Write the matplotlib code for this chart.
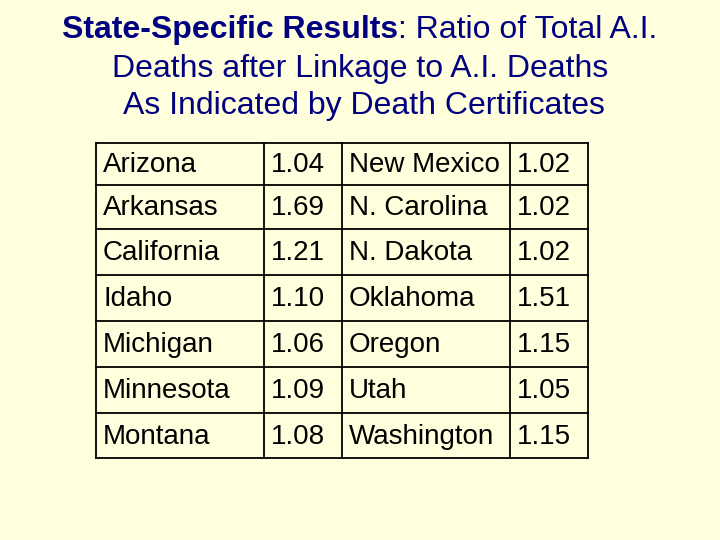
import matplotlib
matplotlib.use("Agg")
import matplotlib.pyplot as plt

states_left = ["Arizona", "Arkansas", "California", "Idaho", "Michigan", "Minnesota", "Montana"]
values_left = ["1.04", "1.69", "1.21", "1.10", "1.06", "1.09", "1.08"]
states_right = ["New Mexico", "N. Carolina", "N. Dakota", "Oklahoma", "Oregon", "Utah", "Washington"]
values_right = ["1.02", "1.02", "1.02", "1.51", "1.15", "1.05", "1.15"]

bg = "#FFFFDD"
fig = plt.figure(figsize=(7.2, 5.4), dpi=100, facecolor=bg)
ax = fig.add_axes([0, 0, 1, 1])
ax.set_xlim(0, 720); ax.set_ylim(540, 0); ax.axis("off")
ax.set_facecolor(bg)

font = ["Liberation Sans", "DejaVu Sans"]
navy = "#000080"
tfs = 23
r = fig.canvas.get_renderer()
ta = ax.text(0, 30, "State-Specific Results", ha="left", va="center", fontsize=tfs, color=navy, family=font, weight="bold")
tb = ax.text(0, 30, ": Ratio of Total A.I.", ha="left", va="center", fontsize=tfs, color=navy, family=font)
wa = ta.get_window_extent(r).width
wb = tb.get_window_extent(r).width
x0 = 360 - (wa + wb) / 2
ta.set_x(x0); tb.set_x(x0 + wa)
ax.text(360, 69, "Deaths after Linkage to A.I. Deaths", ha="center", va="center", fontsize=tfs, color=navy, family=font)
ax.text(364, 106, "As Indicated by Death Certificates", ha="center", va="center", fontsize=tfs, color=navy, family=font)

rows = [143, 185, 229, 275, 321, 367, 413, 458]
cols = [96, 264, 342, 510, 588]
for y in rows:
    ax.plot([cols[0], cols[-1]], [y, y], color="black", lw=1.3)
for x in cols:
    ax.plot([x, x], [rows[0], rows[-1]], color="black", lw=1.3)

for i in range(len(states_left)):
    yc = (rows[i] + rows[i + 1]) / 2 + 1
    for x, s in zip(cols[:4], [states_left[i], values_left[i], states_right[i], values_right[i]]):
        ax.text(x + 7, yc, s, ha="left", va="center", fontsize=20, family=font, color="black")

fig.savefig("out.png", dpi=100, facecolor=bg)
